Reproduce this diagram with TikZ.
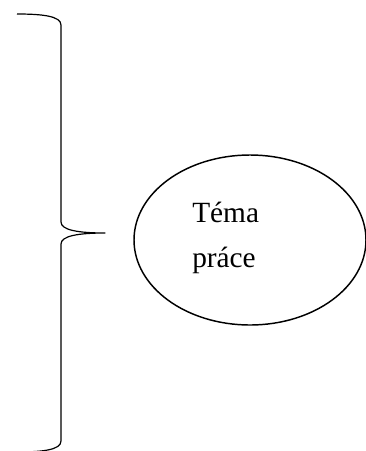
\documentclass[tikz,border=0pt]{standalone}
\usepackage{fontspec}
\setmainfont{Liberation Serif}
\usetikzlibrary{shapes.geometric}
\begin{document}
\begin{tikzpicture}[x=0.75pt,y=-0.75pt,
  bracestyle/.style={line width=0.9pt,line join=round},
  ovalstyle/.style={draw,ellipse,line width=1.1pt,minimum width=232*0.75pt,minimum height=170*0.75pt,inner sep=0pt},
  label/.style={anchor=base west,inner sep=0pt,font=\fontsize{22pt}{26pt}\selectfont}]
\useasboundingbox (0,0) rectangle (366,451);
\clip (0,0) rectangle (366,451);
\coordinate (btop) at (17,14);
\coordinate (btip) at (105,233);
\coordinate (bbot) at (17,452);
\draw[bracestyle] (btop) .. controls (42,14) and (61,16) .. (61,25) -- (61,222)
  .. controls (61,230) and (78,233) .. (btip)
  .. controls (78,233) and (61,236) .. (61,244) -- (61,441)
  .. controls (61,450) and (42,452) .. (bbot);
\node[ovalstyle] (oval) at (250,240) {};
\node[label] (t1) at (192,222) {Téma};
\node[label] (t2) at (192,267) {práce};
\end{tikzpicture}
\end{document}
